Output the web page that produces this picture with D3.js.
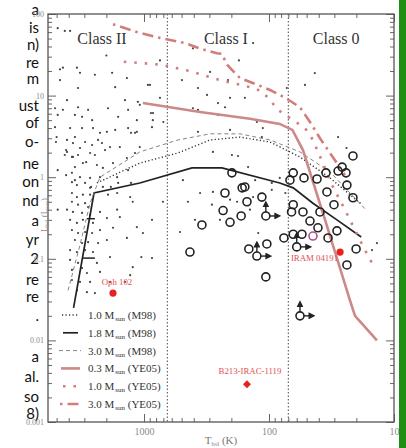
<!DOCTYPE html>
<html>
<head>
<meta charset="utf-8">
<script src="https://cdn.jsdelivr.net/npm/d3@7"></script>
<style>
body { margin: 0; background: #fff; }
svg { display: block; }
</style>
</head>
<body>
<div id="chart"></div>
<script>
// clipped paragraph text on the left of the slide
let leftLines = ["a", "is", "n)", "re", "m", "ust", "of", "o-", "ne", "on", "nd", "a", "yr", "2", "re", "re", ".", "a", "al.", "so", "8)"];

// axis ticks
let yDecades = [0.001, 0.01, 0.1, 1, 10, 100];
let xDecades = [1000, 100, 10];

// class boundaries (Tbol, K)
let classBounds = [650, 70];
let classNames = ["Class II", "Class I", "Class 0"];
let classNameT = [2170, 221, 29];

// small dots: [Tbol, Lbol]
let smallDots = [
  [4900,67],[4300,62],[3900,62],[2000,31],[4700,21],[4450,22],[3440,22],[3250,19],[2470,18],[1800,19],
  [1370,16.4],[4700,15.5],[4130,8.8],[3370,12.4],[1420,8.8],[1120,8.4],[5150,7.0],[4450,6.7],[3370,7.2],[2800,6.7],
  [1940,7.0],[1340,6.7],[4900,5.8],[3570,5.8],[3130,5.5],[2600,5.0],[1610,5.5],[5150,4.1],[3900,4.0],[3130,4.0],
  [2560,4.0],[2250,3.5],[1980,3.6],[1700,3.8],[1340,4.0],[1140,3.6],[5000,3.1],[4130,2.86],[3570,3.1],[2960,2.7],
  [2600,2.48],[2170,2.62],[1870,2.34],[1560,2.34],[1080,2.34],[930,13.5],[1700,12.7],[1080,7.7],[880,6.1],[850,5.0],
  [700,4.75],[1270,3.5],[5060,2.7],[2330,2.86],[3700,2.62],[4200,2.15],[3250,2.28],[2050,2.15],[4300,1.87],[3700,1.77],
  [2470,1.87],[2900,1.53],[4900,1.22],[4200,1.06],[3570,0.92],[2650,0.76],[1840,0.76],[1610,0.85],[1270,0.85],
  [4130,2.04],[3770,1.77],[3370,1.87],[2700,1.98],[3080,1.49],[3570,1.33],[2380,1.41],[2130,1.30],[1770,1.49],[1370,1.72],
  [1180,1.98],[3770,1.13],[3250,1.0],[2700,0.98],[2250,1.0],[1640,1.0],[1340,1.22],[3770,0.87],[3440,0.80],[2960,0.85],
  [2700,0.74],[2130,0.76],[3770,0.64],[3440,0.57],[3080,0.61],[2700,0.61],[1940,0.61],[1640,0.64],[1290,0.57],[3770,0.50],
  [3370,0.46],[2960,0.48],[2800,0.43],[4130,0.40],[3700,0.375],[3130,0.365],[2700,0.345],[2250,0.375],[1640,0.40],[4900,0.40],
  [3900,0.30],[3440,0.275],[3080,0.30],[2560,0.275],[1980,0.316],[1560,0.325],[3770,0.225],[3370,0.207],[2960,0.213],[2600,0.207],
  [2250,0.225],[1770,0.24],[3570,0.17],[3130,0.156],[2800,0.16],[2330,0.156],[1980,0.17],[1370,0.18],[3900,0.128],[3440,0.121],
  [2960,0.128],[2560,0.121],[3900,0.097],[3370,0.089],[2380,0.089],[1870,0.105],[3770,0.073],[3130,0.077],[2860,0.067],[2250,0.069],
  [3770,0.055],[3250,0.052],[2700,0.052],[1870,0.052],[1290,0.063],[3440,0.041],[2860,0.039],[2470,0.038],[1420,0.052],
  [745,27],[406,38],[174,27],[296,19.5],[213,15.5],[497,15.5],[895,13.5],[370,12.4],[313,10.2],[205,9.4],
  [156,9.4],[745,9.4],[256,8.1],[225,7.2],[406,7.0],[370,6.7],[847,6.1],[256,5.8],[125,4.75],[1140,5.0],
  [863,4.1],[370,3.6],[205,3.8],[112,4.0],[1180,3.5],[114,3.1],[43,18.9],[51.5,13.5],[72,12.4],[28,3.1],[24,2.28],
  [1230,0.50],[705,0.50],[445,0.50],[1140,0.245],[863,0.30],[1020,0.207],[515,0.213],[391,0.30],[356,0.64],[281,0.66],
  [247,0.30],[286,0.46],[205,0.53],[180,0.50],[134,0.57],[142,0.40],[122,0.207],[1050,0.105],[863,0.102],[1230,0.079],
  [488,0.92],[198,1.87],[177,1.82],[147,1.33],[129,0.92],[95,0.70],[281,2.04],[95,0.85],[74,0.64],[82,0.98],
  [13.7,0.156],[15,0.128],[134,44]
];

// open circles: [Tbol, Lbol]
let openCircles = [
  [198,1.13],[164,0.74],[156,0.76],[225,0.64],[150,0.50],[114,0.57],[233,0.39],[167,0.335],[205,0.28],[344,0.26],
  [429,0.121],[145,0.132],[104,0.152],[106,0.06],[21.3,1.82],[26,1.33],[28,1.19],[24.2,1.13],[64,1.13],[68,0.92],
  [52.5,0.98],[41.3,0.95],[35,1.13],[23.8,0.80],[34.4,0.66],[21.3,0.56],[64,0.46],[30.2,0.46],[66,0.375],[53.5,0.375],
  [39.1,0.375],[47,0.29],[40.6,0.24],[28.6,0.22],[76,0.18],[64,0.20],[54.5,0.20],[33.7,0.18],[20.1,0.132],[23.8,0.084]
];
let purpleCircles = [[44.5,0.19]];
// limits (circle with up and right arrows)
let limitSources = [[106,0.335],[125,0.108],[60,0.14],[56.5,0.020]];

// named objects
let namedNames = ["Oph 102", "IRAM 04191", "B213-IRAC-1119"];
let namedT = [1770, 27, 150];
let namedL = [0.038, 0.121, 0.0029];

// evolutionary tracks
let trackMass = ["1.0", "1.8", "3.0", "0.3", "1.0", "3.0"];
let trackRef = ["M98", "M98", "M98", "YE05", "YE05", "YE05"];
let trackM98a = [[2380,0.85],[1080,1.49],[535,1.98],[296,2.86],[171,3.1],[98,2.7],[56.5,1.77],[32.5,0.98],[18,0.46]];
let trackM98b = [[3660,0.025],[2510,0.64],[1080,0.85],[413,1.30],[238,1.30],[82,0.85],[64,0.74],[44.5,0.48],[28.6,0.30],[18.3,0.185]];
let trackM98c = [[4050,0.041],[3250,0.148],[2700,0.48],[2250,1.0],[1080,2.04],[535,2.86],[296,3.4],[171,3.4],[98,2.86],[56.5,2.04],[32.5,1.16],[16.8,0.40]];
let trackYE05a = [[1020,8.1],[356,6.3],[142,5.2],[82,4.5],[65,3.8],[59,2.86],[53.5,2.15],[35.6,0.30],[22.5,0.031],[20.5,0.020],[13.7,0.010]];
let trackYE05b = [[1450,26],[745,24],[429,20],[247,15.5],[142,12.7],[114,11.3],[98,8.8],[85,6.7],[68,5.3],[51.5,4.0],[44.5,2.86],[38,1.62],[31.3,0.80],[24.7,0.40],[20.5,0.225],[17.1,0.128],[14.7,0.084]];
let trackYE05c = [[1770,75],[1140,60],[745,51],[470,44],[344,37],[261,33],[238,32.5],[217,24],[171,16.4],[129,13.9],[98,11.7],[74,9.4],[56.5,7.2],[47,4.75],[39.1,3.0],[33.7,2.15],[24.7,1.06]];
let tracks = [trackM98a, trackM98b, trackM98c, trackYE05a, trackYE05b, trackYE05c];
// time marks on the 1.8 Msun track: [T1, T2, L]
let trackMarks = [[2860,2470,0.31],[3080,2470,0.102]];

let width = 406, height = 448;
const plot = {left: 48, right: 394, top: 14, bottom: 422};
const serif = "'Liberation Serif', 'DejaVu Serif', serif";

let svg = d3.select('#chart').append('svg')
    .attr('width', width)
    .attr('height', height);

let x = d3.scaleLog().domain([5860, 10]).range([plot.left, plot.right]);
let y = d3.scaleLog().domain([0.001, 100]).range([plot.bottom, plot.top]);

// paragraph text
let leftY = [10, 28, 45, 63, 79, 106, 123, 142, 164, 182, 201, 221, 240, 259, 280, 297, 316, 357, 377, 397, 414];
svg.append('g').selectAll('text').data(leftLines).enter()
    .append('text')
    .attr('x', 39)
    .attr('y', (d, i) => leftY[i])
    .attr('dy', '0.35em')
    .style('text-anchor', 'end')
    .style('font-family', "Lato, 'Open Sans', sans-serif")
    .style('font-size', '15px')
    .style('fill', '#111')
    .text(d => d);

// axes
let yMinor = y.ticks().filter(d => yDecades.indexOf(d) < 0);
let xMinor = x.ticks().filter(d => xDecades.indexOf(d) < 0);

function styleAxis(g) {
    g.select('.domain').remove();
    g.selectAll('line').attr('stroke', '#666').attr('stroke-width', 1);
    g.selectAll('text').style('font-family', serif).style('font-size', '10px').style('fill', '#8a8a8a');
}

svg.append('g').attr('transform', `translate(${plot.left},0)`)
    .call(d3.axisLeft(y).tickValues(yMinor).tickSize(-4).tickFormat(''))
    .call(styleAxis);
svg.append('g').attr('transform', `translate(${plot.left},0)`)
    .call(d3.axisLeft(y).tickValues(yDecades).tickSize(-8).tickPadding(4).tickFormat(d => d.toString()))
    .call(styleAxis)
    .selectAll('text').style('font-size', '8px');
svg.append('g').attr('transform', `translate(${plot.right},0)`)
    .call(d3.axisRight(y).tickValues(yMinor).tickSize(-4).tickFormat(''))
    .call(styleAxis);
svg.append('g').attr('transform', `translate(${plot.right},0)`)
    .call(d3.axisRight(y).tickValues(yDecades).tickSize(-8).tickFormat(''))
    .call(styleAxis);

svg.append('g').attr('transform', `translate(0,${plot.bottom})`)
    .call(d3.axisBottom(x).tickValues(xMinor).tickSize(-4).tickFormat(''))
    .call(styleAxis);
svg.append('g').attr('transform', `translate(0,${plot.bottom})`)
    .call(d3.axisBottom(x).tickValues(xDecades).tickSize(-8).tickPadding(6).tickFormat(d => d.toString()))
    .call(styleAxis);
svg.append('g').attr('transform', `translate(0,${plot.top})`)
    .call(d3.axisTop(x).tickValues(xMinor).tickSize(-4).tickFormat(''))
    .call(styleAxis);
svg.append('g').attr('transform', `translate(0,${plot.top})`)
    .call(d3.axisTop(x).tickValues(xDecades).tickSize(-8).tickFormat(''))
    .call(styleAxis);

svg.append('rect')
    .attr('x', plot.left).attr('y', plot.top)
    .attr('width', plot.right - plot.left).attr('height', plot.bottom - plot.top)
    .attr('fill', 'none').attr('stroke', '#555').attr('stroke-width', 1.3);

// axis labels
let yl = svg.append('text')
    .attr('transform', 'translate(47,215) rotate(-90)')
    .style('text-anchor', 'middle')
    .style('font-family', serif).style('font-size', '9px').style('fill', '#8a8a8a');
yl.append('tspan').text('L');
yl.append('tspan').attr('dy', 2).style('font-size', '5.5px').text('bol');
yl.append('tspan').attr('dy', -2).text(' (L');
yl.append('tspan').attr('dy', 2).style('font-size', '5.5px').text('sun');
yl.append('tspan').attr('dy', -2).text(')');

let xl = svg.append('text')
    .attr('x', 221).attr('y', 444)
    .style('text-anchor', 'middle')
    .style('font-family', serif).style('font-size', '11px').style('fill', '#777');
xl.append('tspan').text('T');
xl.append('tspan').attr('dy', 2).style('font-size', '6px').text('bol');
xl.append('tspan').attr('dy', -2).text(' (K)');

// class boundaries
svg.append('g').selectAll('line').data(classBounds).enter()
    .append('line')
    .attr('x1', d => x(d)).attr('x2', d => x(d))
    .attr('y1', plot.top).attr('y2', plot.bottom)
    .attr('stroke', '#666').attr('stroke-width', 1.2)
    .attr('stroke-dasharray', '1.5,2');

svg.append('g').selectAll('text').data(classNames).enter()
    .append('text')
    .attr('x', (d, i) => x(classNameT[i]))
    .attr('y', 44)
    .style('text-anchor', 'middle')
    .style('font-family', serif).style('font-size', '16px').style('fill', '#333')
    .text(d => d);

// small dots
svg.append('g').selectAll('circle').data(smallDots).enter()
    .append('circle')
    .attr('cx', d => x(d[0])).attr('cy', d => y(d[1]))
    .attr('r', 1.1)
    .attr('fill', '#444');

// tracks
const trackStyle = [
    {stroke: '#333', w: 1.4, dash: '1.2,2.3', off: 0, lx: [62, 79]},
    {stroke: '#222', w: 1.7, dash: null, off: 0, lx: [63, 78]},
    {stroke: '#777', w: 0.9, dash: '4,3', off: 0, lx: [59, 81]},
    {stroke: '#cd8888', w: 2.6, dash: null, off: 0, lx: [61, 80]},
    {stroke: '#d27c7c', w: 2.6, dash: '2.5,8', off: 0, lx: [63, 76]},
    {stroke: '#d27c7c', w: 2.6, dash: '11,5,2.5,5', off: 16, lx: [60, 80]}
];
let line = d3.line().x(d => x(d[0])).y(d => y(d[1]));
svg.append('g').selectAll('path').data(tracks).enter()
    .append('path')
    .attr('d', line)
    .attr('fill', 'none')
    .attr('stroke', (d, i) => trackStyle[i].stroke)
    .attr('stroke-width', (d, i) => trackStyle[i].w)
    .attr('stroke-dasharray', (d, i) => trackStyle[i].dash)
    .attr('stroke-dashoffset', (d, i) => trackStyle[i].off);

svg.append('g').selectAll('line').data(trackMarks).enter()
    .append('line')
    .attr('x1', d => x(d[0])).attr('x2', d => x(d[1]))
    .attr('y1', d => y(d[2])).attr('y2', d => y(d[2]))
    .attr('stroke', '#222').attr('stroke-width', 1.5);

// open circles
svg.append('g').selectAll('circle').data(openCircles).enter()
    .append('circle')
    .attr('cx', d => x(d[0])).attr('cy', d => y(d[1]))
    .attr('r', 4)
    .attr('fill', 'none').attr('stroke', '#222').attr('stroke-width', 1.6);

svg.append('g').selectAll('circle').data(purpleCircles).enter()
    .append('circle')
    .attr('cx', d => x(d[0])).attr('cy', d => y(d[1]))
    .attr('r', 4)
    .attr('fill', 'none').attr('stroke', '#b0508a').attr('stroke-width', 1.6);

// limits
svg.append('defs').append('marker')
    .attr('id', 'arrow').attr('viewBox', '0 0 10 10')
    .attr('refX', 5).attr('refY', 5)
    .attr('markerWidth', 5).attr('markerHeight', 5)
    .attr('orient', 'auto')
    .append('path').attr('d', 'M0,0L10,5L0,10z').attr('fill', '#222');

let lim = svg.append('g').selectAll('g').data(limitSources).enter()
    .append('g')
    .attr('transform', d => `translate(${x(d[0])},${y(d[1])})`);
lim.append('circle').attr('r', 4)
    .attr('fill', 'none').attr('stroke', '#222').attr('stroke-width', 1.6);
lim.append('line').attr('x1', 0).attr('y1', -4).attr('x2', 0).attr('y2', -12)
    .attr('stroke', '#222').attr('stroke-width', 1.4).attr('marker-end', 'url(#arrow)');
lim.append('line').attr('x1', 4).attr('y1', 0).attr('x2', 12).attr('y2', 0)
    .attr('stroke', '#222').attr('stroke-width', 1.4).attr('marker-end', 'url(#arrow)');

// named objects
let red = '#e82020';
svg.append('circle')
    .attr('cx', x(namedT[0])).attr('cy', y(namedL[0])).attr('r', 3.6).attr('fill', red);
svg.append('circle')
    .attr('cx', x(namedT[1])).attr('cy', y(namedL[1])).attr('r', 3.6).attr('fill', red);
svg.append('path')
    .attr('transform', `translate(${x(namedT[2])},${y(namedL[2])})`)
    .attr('d', d3.symbol().type(d3.symbolDiamond2).size(40))
    .attr('fill', red);

let lab = svg.append('g')
    .style('font-family', serif).style('font-size', '8.8px').style('fill', '#e05050');
lab.append('text').attr('x', x(namedT[0]) + 4).attr('y', y(namedL[0]) - 8)
    .style('text-anchor', 'middle').text(namedNames[0]);
lab.append('text').attr('x', x(namedT[1]) - 2).attr('y', y(namedL[1]) + 9)
    .style('text-anchor', 'end').text(namedNames[1]);
lab.append('text').attr('x', x(namedT[2]) + 3).attr('y', y(namedL[2]) - 10)
    .style('text-anchor', 'middle').text(namedNames[2]);

// legend
let leg = svg.append('g').selectAll('g').data(trackMass).enter()
    .append('g')
    .attr('transform', (d, i) => `translate(0,${315 + i * 17.8})`);
leg.append('line')
    .attr('x1', (d, i) => trackStyle[i].lx[0]).attr('x2', (d, i) => trackStyle[i].lx[1])
    .attr('y1', 0).attr('y2', 0)
    .attr('stroke', (d, i) => trackStyle[i].stroke)
    .attr('stroke-width', (d, i) => trackStyle[i].w)
    .attr('stroke-dasharray', (d, i) => trackStyle[i].dash)
    .attr('stroke-dashoffset', (d, i) => trackStyle[i].off);
let lt = leg.append('text')
    .attr('x', 88).attr('y', 4)
    .style('font-family', serif).style('font-size', '11px').style('fill', '#333');
lt.append('tspan').text(d => d + ' M');
lt.append('tspan').attr('dy', 2).attr('dx', 1).style('font-size', '7px').text('sun');
lt.append('tspan').attr('dy', -2).text((d, i) => ' (' + trackRef[i] + ')');

// green slide border
svg.append('rect')
    .attr('x', 399).attr('y', 0).attr('width', 7).attr('height', height)
    .attr('fill', '#1f8f14');
</script>
</body>
</html>
